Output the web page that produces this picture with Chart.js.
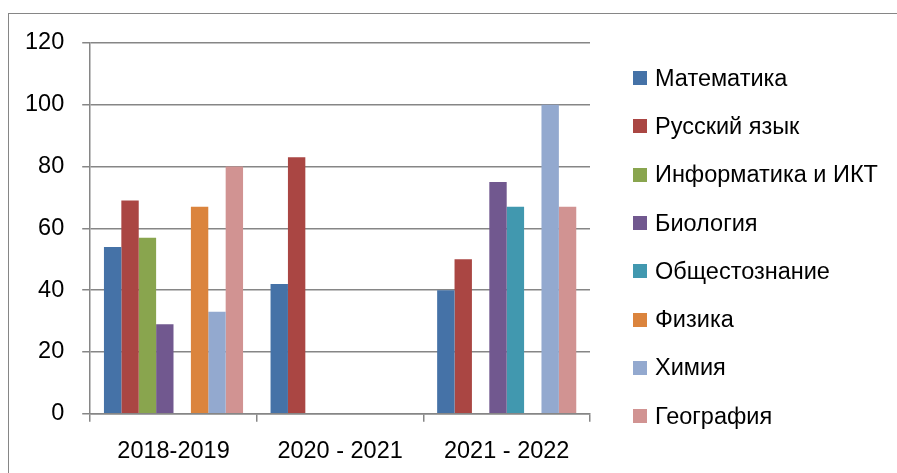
<!DOCTYPE html>
<html>
<head>
<meta charset="utf-8">
<script src="https://cdn.jsdelivr.net/npm/chart.js@4"></script>
<style>
  html, body { margin: 0; padding: 0; background: #fff; overflow: hidden; }
  #wrap { position: relative; width: 897px; height: 473px; overflow: hidden; }
  #frame { position: absolute; left: 8px; top: 13px; width: 1000px; height: 1000px;
           border: 1.5px solid #868686; box-sizing: border-box; }
  #chart { position: absolute; left: 0; top: 0; }
  #legend { position: absolute; left: 633px; top: 54px; font-family: "Liberation Sans", Arial, sans-serif;
            font-size: 23.5px; color: #000; }
  .item { height: 48.3px; display: flex; align-items: center; white-space: nowrap; }
  .box { width: 14px; height: 14px; margin-right: 8px; flex: none; }
</style>
</head>
<body>
<div id="wrap">
  <div id="frame"></div>
  <canvas id="chart" width="897" height="483"></canvas>
  <div id="legend"></div>
</div>
<script>
// data
var years = ['2018-2019', '2020 - 2021', '2021 - 2022'];
var subjects = ['Математика', 'Русский язык', 'Информатика и ИКТ', 'Биология',
                'Общестознание', 'Физика', 'Химия', 'География'];
var matem    = [54, 42, 40];
var russian  = [69, 83, 50];
var inform   = [57, null, null];
var biology  = [29, null, 75];
var social   = [null, null, 67];
var physics  = [67, null, null];
var chemistry = [33, null, 100];
var geography = [80, null, 67];
var yTicks = [0, 20, 40, 60, 80, 100, 120];

var colors = ['#4572A7', '#AA4643', '#89A54E', '#71588F', '#4198AF', '#DB843D', '#93A9CF', '#D19392'];
var series = [matem, russian, inform, biology, social, physics, chemistry, geography];

var gray = '#868686';
var font = { family: '"Liberation Sans", Arial, sans-serif', size: 23.5 };

var datasets = series.map((vals, i) => ({
    label: subjects[i],
    data: vals,
    backgroundColor: colors[i],
    borderWidth: 0
}));

var ctx = document.getElementById('chart').getContext('2d');
var chart = new Chart(ctx, {
    type: 'bar',
    data: { labels: years, datasets: datasets },
    options: {
        responsive: false,
        animation: false,
        layout: { padding: { top: 43, left: 7, right: 307, bottom: 1 } },
        datasets: { bar: { barPercentage: 1, categoryPercentage: 0.835 } },
        plugins: { legend: { display: false }, tooltip: { enabled: false } },
        scales: {
            x: {
                grid: { drawOnChartArea: false, drawTicks: true, tickLength: 8, color: gray, lineWidth: 1.5 },
                border: { display: true, color: gray, width: 1.5 },
                ticks: { color: '#000', font: font, padding: 16 }
            },
            y: {
                min: 0, max: 120,
                afterBuildTicks: (axis) => { axis.ticks = yTicks.map(v => ({ value: v })); },
                grid: { color: gray, lineWidth: 1.5, tickLength: 8 },
                border: { display: true, color: gray, width: 1.5 },
                ticks: { color: '#000', font: font, padding: 18 }
            }
        }
    }
});

// legend built from the same arrays
var legend = document.getElementById('legend');
subjects.forEach((name, i) => {
    var row = document.createElement('div');
    row.className = 'item';
    row.innerHTML = '<span class="box" style="background:' + colors[i] + '"></span><span>' + name + '</span>';
    legend.appendChild(row);
});
</script>
</body>
</html>
